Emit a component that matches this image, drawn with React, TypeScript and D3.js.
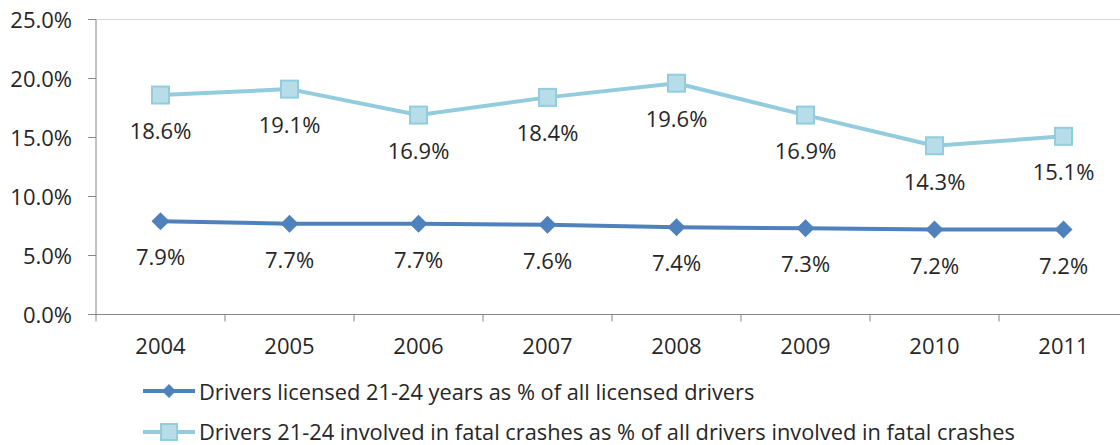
import React from "react";
import * as d3 from "d3";

const years = ["2004", "2005", "2006", "2007", "2008", "2009", "2010", "2011"];
const licensed = [7.9, 7.7, 7.7, 7.6, 7.4, 7.3, 7.2, 7.2];
const fatal = [18.6, 19.1, 16.9, 18.4, 19.6, 16.9, 14.3, 15.1];
const yTicks = [0, 5, 10, 15, 20, 25];
const seriesNames = [
  "Drivers licensed 21-24 years as % of all licensed drivers",
  "Drivers 21-24 involved in fatal crashes as % of all drivers involved in fatal crashes",
];

const W = 1120;
const H = 445;
const FONT = "'Open Sans', sans-serif";
const DARK = "#4F81BD";
const LIGHT = "#93CDDD";
const LIGHT_FILL = "#B7DEE8";
const TXT = "#262626";
const AXIS = "#868686";
const FS = 22;
const LFS = 21.8;

export default function App() {
  const x = d3.scaleBand<string>().domain(years).range([96, 1128]);
  const y = d3.scaleLinear().domain([0, 25]).range([314.5, 19.5]);
  const cx = (d: string) => (x(d) as number) + x.bandwidth() / 2;
  const line = d3
    .line<number>()
    .x((_, i) => cx(years[i]))
    .y((v) => y(v));

  const boundaries = years.map((d) => x(d) as number).concat([1128]);

  const diamond = (px: number, py: number, r: number) =>
    `M${px},${py - r}L${px + r},${py}L${px},${py + r}L${px - r},${py}Z`;

  return (
    <svg
      width={W}
      height={H}
      style={{ position: "absolute", left: 0, top: 0, background: "#fff" }}
      fontFamily={FONT}
    >
      {/* top border line */}
      <line x1={96} x2={W} y1={y(25)} y2={y(25)} stroke="#D9D9D9" strokeWidth={1} />
      {/* y axis */}
      <line x1={96} x2={96} y1={y(25)} y2={y(0)} stroke={AXIS} strokeWidth={1} />
      {yTicks.map((t) => (
        <g key={t}>
          <line x1={88} x2={96} y1={y(t)} y2={y(t)} stroke={AXIS} />
          <text
            x={72}
            y={y(t) - 1}
            textAnchor="end"
            dominantBaseline="central"
            fontSize={FS}
            fill={TXT}
          >
            {t.toFixed(1) + "%"}
          </text>
        </g>
      ))}
      {/* x axis */}
      <line x1={96} x2={W} y1={y(0)} y2={y(0)} stroke={AXIS} />
      {boundaries.map((b, i) => (
        <line key={i} x1={b} x2={b} y1={y(0)} y2={y(0) + 7} stroke={AXIS} />
      ))}
      {years.map((d) => (
        <text
          key={d}
          x={cx(d)}
          y={345}
          textAnchor="middle"
          dominantBaseline="central"
          fontSize={FS}
          fill={TXT}
        >
          {d}
        </text>
      ))}

      {/* fatal series */}
      <path d={line(fatal) || ""} fill="none" stroke={LIGHT} strokeWidth={4} strokeLinejoin="round" />
      {fatal.map((v, i) => (
        <g key={i}>
          <rect
            x={cx(years[i]) - 8.5}
            y={y(v) - 8.5}
            width={17}
            height={17}
            fill={LIGHT_FILL}
            stroke={LIGHT}
            strokeWidth={2}
          />
          <text
            x={cx(years[i])}
            y={y(v) + 35}
            textAnchor="middle"
            dominantBaseline="central"
            fontSize={FS}
            fill={TXT}
          >
            {v.toFixed(1) + "%"}
          </text>
        </g>
      ))}

      {/* licensed series */}
      <path d={line(licensed) || ""} fill="none" stroke={DARK} strokeWidth={4} strokeLinejoin="round" />
      {licensed.map((v, i) => (
        <g key={i}>
          <path d={diamond(cx(years[i]), y(v), 9)} fill={DARK} />
          <text
            x={cx(years[i])}
            y={y(v) + 35}
            textAnchor="middle"
            dominantBaseline="central"
            fontSize={FS}
            fill={TXT}
          >
            {v.toFixed(1) + "%"}
          </text>
        </g>
      ))}

      {/* legend */}
      <g>
        <line x1={143} x2={195} y1={391} y2={391} stroke={DARK} strokeWidth={4} />
        <path d={diamond(169, 391, 7)} fill={DARK} />
        <text x={199} y={391} dominantBaseline="central" fontSize={LFS} fill={TXT}>
          {seriesNames[0]}
        </text>
        <line x1={143} x2={195} y1={432} y2={432} stroke={LIGHT} strokeWidth={4} />
        <rect x={161} y={424} width={16} height={16} fill={LIGHT_FILL} stroke={LIGHT} strokeWidth={2} />
        <text x={199} y={431} dominantBaseline="central" fontSize={LFS} fill={TXT}>
          {seriesNames[1]}
        </text>
      </g>
    </svg>
  );
}
